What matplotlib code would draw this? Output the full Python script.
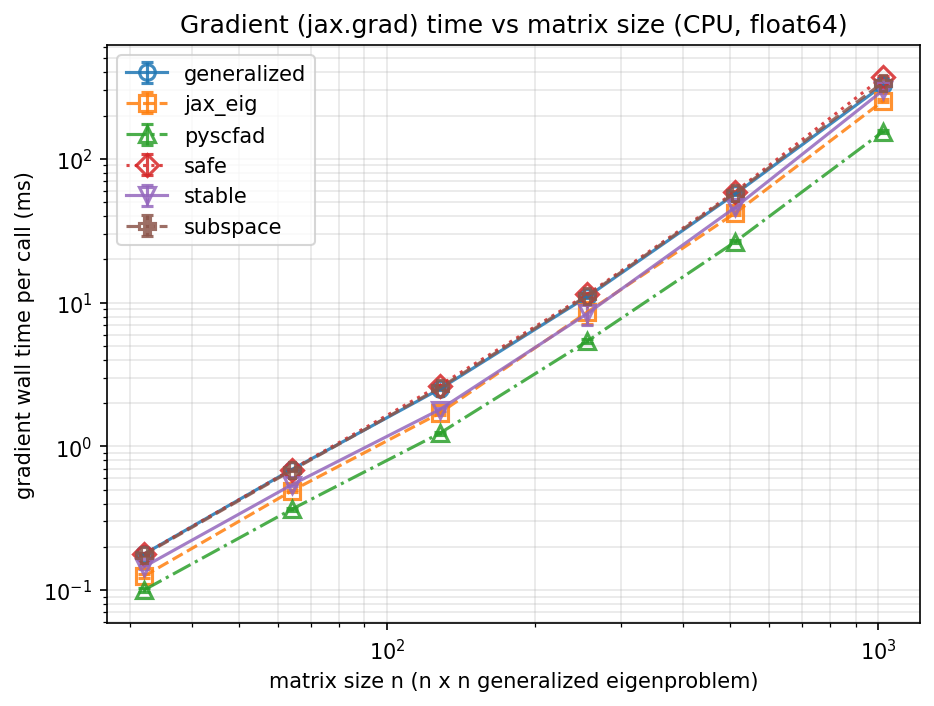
import numpy as np
import matplotlib
matplotlib.use("Agg")
import matplotlib.pyplot as plt

sizes = [32, 64, 128, 256, 512, 1024]

methods = ["generalized", "jax_eig", "pyscfad", "safe", "stable", "subspace"]

generalized = [0.178, 0.69, 2.5, 11.0, 57, 325]
jax_eig = [0.125, 0.49, 1.7, 8.6, 42, 253]
pyscfad = [0.100, 0.365, 1.23, 5.4, 26.5, 155]
safe = [0.178, 0.69, 2.65, 11.4, 59, 372]
stable = [0.145, 0.54, 1.8, 8.4, 46, 300]
subspace = [0.176, 0.68, 2.55, 11.2, 58, 340]

generalized_err = [0.004, 0.01, 0.04, 0.2, 1.0, 6]
jax_eig_err = [0.004, 0.01, 0.04, 1.5, 1.0, 6]
pyscfad_err = [0.003, 0.008, 0.03, 0.15, 0.6, 4]
safe_err = [0.004, 0.01, 0.04, 0.2, 1.0, 8]
stable_err = [0.004, 0.01, 0.04, 1.4, 1.0, 6]
subspace_err = [0.004, 0.01, 0.04, 0.2, 1.0, 6]

values = [generalized, jax_eig, pyscfad, safe, stable, subspace]
errors = [generalized_err, jax_eig_err, pyscfad_err, safe_err, stable_err, subspace_err]
markers = ["o", "s", "^", "D", "v", "P"]
styles = ["-", "--", "-.", ":", "-", "--"]

fig, ax = plt.subplots(figsize=(6.233, 4.713), dpi=150)
fig.subplots_adjust(left=0.1144, right=0.984, top=0.935, bottom=0.1174)

for name, vals, err, m, ls in zip(methods, values, errors, markers, styles):
    ax.errorbar(sizes, vals, yerr=err, marker=m, linestyle=ls, capsize=3,
                markerfacecolor="none", markeredgewidth=1.5, markersize=7.5,
                alpha=0.85, label=name)

ax.set_xscale("log")
ax.set_yscale("log")
ax.set_ylim(0.059, 620)
ax.set_xlabel("matrix size n (n x n generalized eigenproblem)")
ax.set_ylabel("gradient wall time per call (ms)")
ax.set_title("Gradient (jax.grad) time vs matrix size (CPU, float64)")
ax.grid(True, which="both", alpha=0.3)
ax.legend(loc="upper left")

fig.savefig("out.png", dpi=150)
